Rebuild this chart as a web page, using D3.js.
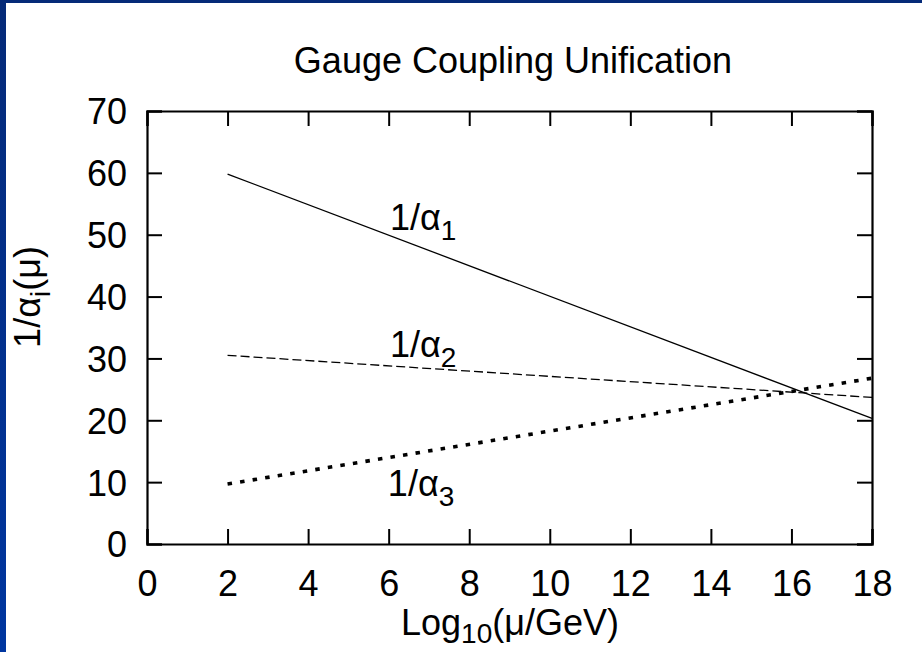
<!DOCTYPE html>
<html>
<head>
<meta charset="utf-8">
<script src="https://cdn.jsdelivr.net/npm/d3@7"></script>
<style>
html,body{margin:0;padding:0;background:#fff;}
svg{display:block;}
text{font-family:"Liberation Sans",Arial,Helvetica,sans-serif;fill:#000;}
</style>
</head>
<body>
<svg id="chart" width="922" height="652"></svg>
<script>
// ---- data ----
const title = "Gauge Coupling Unification";
const xTicks = [0, 2, 4, 6, 8, 10, 12, 14, 16, 18];
const yTicks = [0, 10, 20, 30, 40, 50, 60, 70];
const logMu = [2, 18];
const invAlpha1 = [59.8, 20.3];
const invAlpha2 = [30.5, 23.7];
const invAlpha3 = [9.7, 26.8];
const seriesNames = ["1", "2", "3"];
const labelPos = [[6.03, 50.8], [6.03, 30.2], [5.98, 7.8]]; // data coords of label baselines

// ---- layout ----
const svg = d3.select("#chart");
const W = 922, H = 652;
const m = {left: 147, right: 50, top: 111, bottom: 108};
const x = d3.scaleLinear().domain([0, 18]).range([m.left, W - m.right]);
const y = d3.scaleLinear().domain([0, 70]).range([H - m.bottom, m.top]);

// blue frame
const defs = svg.append("defs");
const grad = defs.append("linearGradient").attr("id", "lg").attr("x1", 0).attr("y1", 0).attr("x2", 0).attr("y2", 1);
grad.append("stop").attr("offset", "0%").attr("stop-color", "#052a78");
grad.append("stop").attr("offset", "100%").attr("stop-color", "#0036a0");
svg.append("rect").attr("x", 0).attr("y", 0).attr("width", W).attr("height", H).attr("fill", "#fff");
svg.append("rect").attr("x", 0).attr("y", 0).attr("width", W).attr("height", 3).attr("fill", "#052a78");
svg.append("rect").attr("x", 0).attr("y", 0).attr("width", 6).attr("height", H).attr("fill", "url(#lg)");

const FS = 36;
const SFS = 28;
const tickLen = 15;

// axes with inward ticks on all 4 sides
const gB = svg.append("g").attr("transform", `translate(0,${y(0)})`)
  .call(d3.axisBottom(x).tickValues(xTicks).tickSize(-tickLen).tickPadding(26).tickFormat(d3.format("d")));
const gT = svg.append("g").attr("transform", `translate(0,${y(70)})`)
  .call(d3.axisTop(x).tickValues(xTicks).tickSize(-tickLen).tickFormat(""));
const gL = svg.append("g").attr("transform", `translate(${x(0)},0)`)
  .call(d3.axisLeft(y).tickValues(yTicks).tickSize(-tickLen).tickPadding(20).tickFormat(d3.format("d")));
const gR = svg.append("g").attr("transform", `translate(${x(18)},0)`)
  .call(d3.axisRight(y).tickValues(yTicks).tickSize(-tickLen).tickFormat(""));
[gB, gT, gL, gR].forEach(g => {
  g.select(".domain").attr("stroke", "#000").attr("stroke-width", 2.2);
  g.selectAll(".tick line").attr("stroke", "#000").attr("stroke-width", 2);
  g.selectAll(".tick text").attr("font-size", FS).attr("font-family", "Liberation Sans, Arial, sans-serif").attr("fill", "#000");
});
gB.selectAll(".tick text").attr("dy", "0.71em");
gL.selectAll(".tick text").attr("dy", "0.36em");

// lines
const line = d3.line().x(d => x(d[0])).y(d => y(d[1]));
const series = [invAlpha1, invAlpha2, invAlpha3];
const styles = [
  {w: 1.3, dash: null},
  {w: 1.3, dash: "9,4"},
  {w: 3.6, dash: "4.5,8.2"}
];
series.forEach((s, i) => {
  svg.append("path")
    .datum(logMu.map((v, j) => [v, s[j]]))
    .attr("d", line)
    .attr("fill", "none")
    .attr("stroke", "#000")
    .attr("stroke-width", styles[i].w)
    .attr("stroke-dasharray", styles[i].dash);
});

// labels 1/alpha_i
seriesNames.forEach((n, i) => {
  const t = svg.append("text").attr("x", x(labelPos[i][0])).attr("y", y(labelPos[i][1])).attr("font-size", FS);
  t.append("tspan").text("1/α");
  t.append("tspan").attr("dy", 10).attr("font-size", SFS).text(n);
});

// title
svg.append("text").attr("x", 513).attr("y", 73).attr("text-anchor", "middle").attr("font-size", FS).text(title);

// x label
const xl = svg.append("text").attr("x", 510).attr("y", 635).attr("text-anchor", "middle").attr("font-size", FS);
xl.append("tspan").text("Log");
xl.append("tspan").attr("dy", 8).attr("font-size", SFS).text("10");
xl.append("tspan").attr("dy", -8).text("(μ/GeV)");

// y label
const yl = svg.append("text").attr("transform", `translate(40,${297}) rotate(-90)`).attr("text-anchor", "middle").attr("font-size", FS);
yl.append("tspan").text("1/α");
yl.append("tspan").attr("dy", 10).attr("font-size", SFS).text("i");
yl.append("tspan").attr("dy", -10).text("(μ)");
</script>
</body>
</html>
